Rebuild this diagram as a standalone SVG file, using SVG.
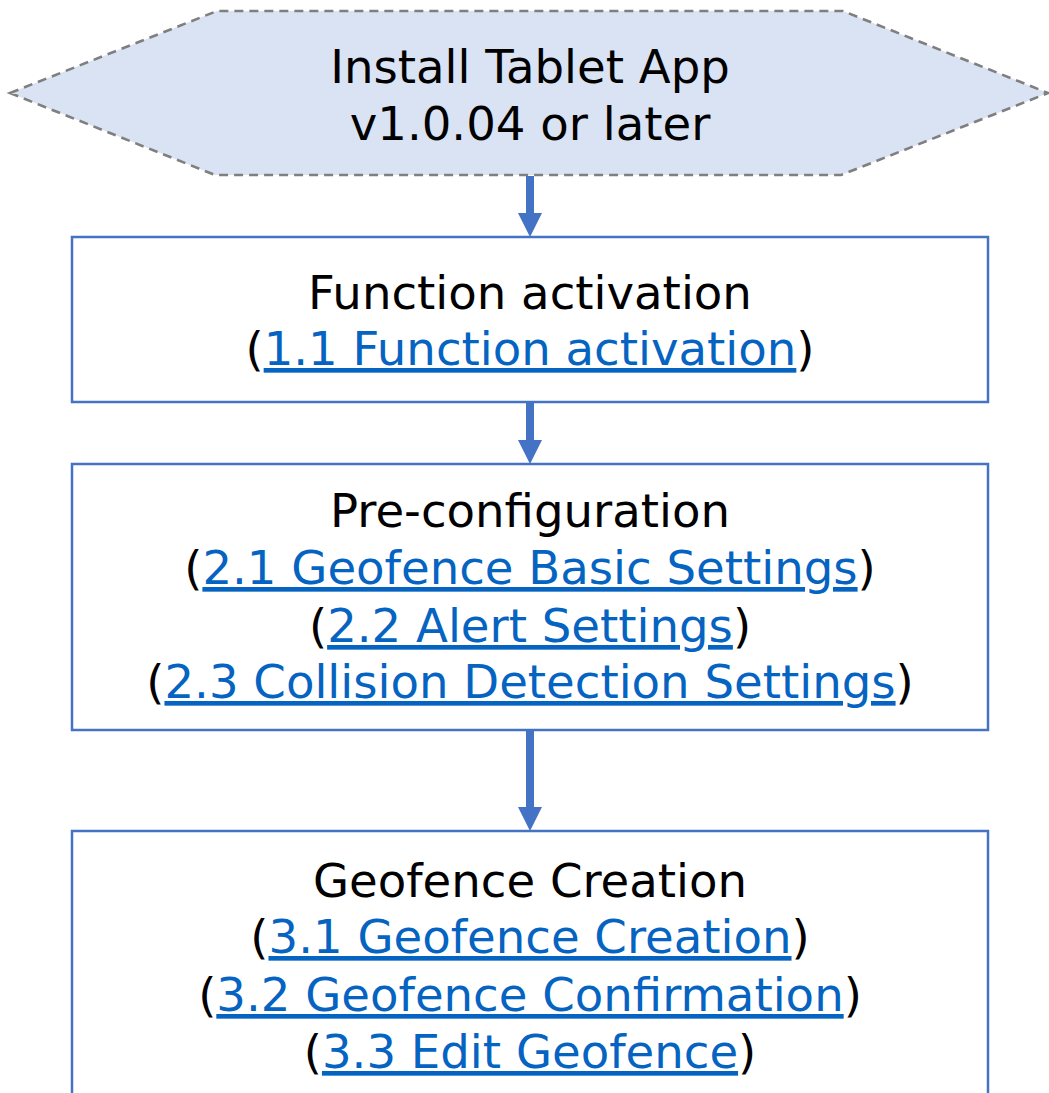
<svg xmlns="http://www.w3.org/2000/svg" width="1049" height="1093" viewBox="0 0 1049 1093">
  <style>
    .lbl { font-family: "DejaVu Sans", Verdana, sans-serif; font-size: 46.6px; fill: #000000; text-anchor: middle; }
    .link { fill: #0563C1; text-decoration: underline; }
    .box { fill: #FFFFFF; stroke: #4472C4; stroke-width: 2.5; }
    .start { fill: #DAE3F3; stroke: #7F7F7F; stroke-width: 2.6; stroke-dasharray: 9 6; }
    .flow { stroke: #4472C4; stroke-width: 8; fill: none; marker-end: url(#head); }
  </style>
  <defs>
    <marker id="head" markerUnits="userSpaceOnUse" markerWidth="24" markerHeight="24" viewBox="0 0 24 24" refX="0" refY="12" orient="auto">
      <path d="M0,0 L24,12 L0,24 z" fill="#4472C4"/>
    </marker>
  </defs>
  <rect width="1049" height="1093" fill="#FFFFFF"/>

  <!-- start: app installation -->
  <g id="install">
    <polygon class="start" points="10,93 217,11 843,11 1048,93 841,175 215,175"/>
    <text class="lbl" x="530" y="83">Install Tablet App</text>
    <text class="lbl" x="530" y="140">v1.0.04 or later</text>
  </g>

  <!-- step 1 -->
  <g id="activation">
    <rect class="box" x="72" y="237" width="916" height="165"/>
    <text class="lbl" x="530" y="309">Function activation</text>
    <text class="lbl" x="530" y="365">(<tspan class="link">1.1 Function activation</tspan>)</text>
  </g>

  <!-- step 2 -->
  <g id="preconfig">
    <rect class="box" x="72" y="464" width="916" height="266"/>
    <text class="lbl" x="530" y="527">Pre-configuration</text>
    <text class="lbl" x="530" y="584">(<tspan class="link">2.1 Geofence Basic Settings</tspan>)</text>
    <text class="lbl" x="530" y="642">(<tspan class="link">2.2 Alert Settings</tspan>)</text>
    <text class="lbl" x="530" y="698">(<tspan class="link">2.3 Collision Detection Settings</tspan>)</text>
  </g>

  <!-- step 3 -->
  <g id="creation">
    <rect class="box" x="72" y="831" width="916" height="290"/>
    <text class="lbl" x="530" y="897">Geofence Creation</text>
    <text class="lbl" x="530" y="953">(<tspan class="link">3.1 Geofence Creation</tspan>)</text>
    <text class="lbl" x="530" y="1011">(<tspan class="link">3.2 Geofence Confirmation</tspan>)</text>
    <text class="lbl" x="530" y="1068">(<tspan class="link">3.3 Edit Geofence</tspan>)</text>
  </g>

  <!-- connectors -->
  <g id="connectors">
    <line class="flow" x1="530" y1="176" x2="530" y2="213"/>
    <line class="flow" x1="530" y1="403" x2="530" y2="440"/>
    <line class="flow" x1="530" y1="731" x2="530" y2="807"/>
  </g>
</svg>
